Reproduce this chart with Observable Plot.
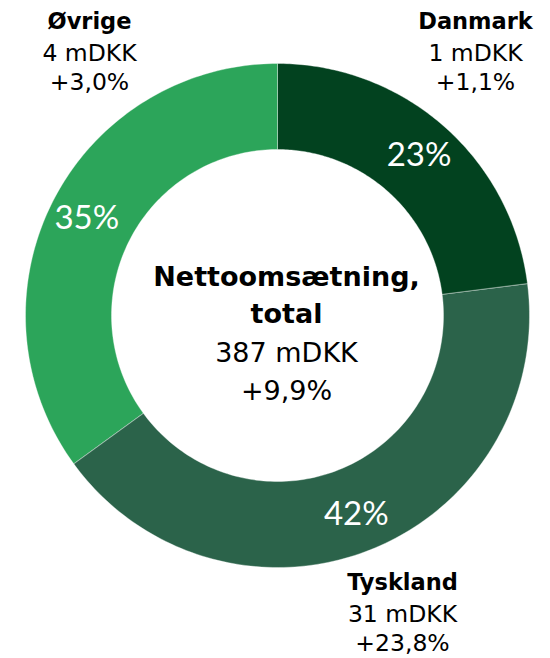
<!DOCTYPE html>
<html>
<head>
<meta charset="utf-8">
<script src="https://cdn.jsdelivr.net/npm/d3@7"></script>
<script src="https://cdn.jsdelivr.net/npm/@observablehq/plot@0.6"></script>
<style>
  html, body { margin: 0; padding: 0; background: #fff; }
  #chart svg { display: block; }
</style>
</head>
<body>
<div id="chart"></div>
<script>
// ---- data ----
const categories = ["Danmark", "Tyskland", "Øvrige"];
const shares = [23, 42, 35];
const amounts = ["1 mDKK", "31 mDKK", "4 mDKK"];
const growth = ["+1,1%", "+23,8%", "+3,0%"];
const colors = ["#02421f", "#2b634a", "#2ca55a"];
const totalTitle = ["Nettoomsætning,", "total"];
const totalAmount = "387 mDKK";
const totalGrowth = "+9,9%";

// ---- layout ----
const W = 550, H = 658;
const cx = 277, cy = 315;      // donut centre in pixels
const R = 252, r0 = 166, rLabel = 214;
const FONT = "'DejaVu Sans', sans-serif";
const PCT_FONT = "Lato, sans-serif";
const px = p => p - cx;        // pixel -> data x
const py = p => cy - p;        // pixel -> data y

// slices from shares
const total = d3.sum(shares);
let acc = 0;
const slices = categories.map((c, i) => {
  const a0 = acc / total * 2 * Math.PI;
  acc += shares[i];
  const a1 = acc / total * 2 * Math.PI;
  return {cat: c, share: shares[i], a0, a1, mid: (a0 + a1) / 2};
});
const poly = [];
for (const s of slices) {
  const n = 120;
  for (let k = 0; k <= n; k++) {
    const a = s.a0 + (s.a1 - s.a0) * k / n;
    poly.push({cat: s.cat, x: R * Math.sin(a), y: R * Math.cos(a)});
  }
  for (let k = n; k >= 0; k--) {
    const a = s.a0 + (s.a1 - s.a0) * k / n;
    poly.push({cat: s.cat, x: r0 * Math.sin(a), y: r0 * Math.cos(a)});
  }
}

// outer label anchors (centre x, first baseline) in pixels
const outerPos = {
  "Danmark": [475, 28],
  "Tyskland": [402, 589],
  "Øvrige": [89, 28]
};
const lineGap = [0, 32, 61];
const outer = categories.map((c, i) => ({cat: c, amount: amounts[i], growth: growth[i], pos: outerPos[c]}));

const fsOutB = 22.5, fsOut = 23.5, fsCen = 27;
const chart = Plot.plot({
  width: W, height: H,
  margin: 0,
  style: {fontFamily: FONT, background: "#fff"},
  x: {domain: [-cx, W - cx], axis: null},
  y: {domain: [cy - H, cy], axis: null},
  color: {domain: categories, range: colors},
  marks: [
    Plot.line(poly, {x: "x", y: "y", z: "cat", fill: "cat", stroke: "#fff", strokeWidth: 0.6, strokeOpacity: 0.6, curve: "linear-closed"}),
    Plot.text(slices, {
      x: d => rLabel * Math.sin(d.mid), y: d => rLabel * Math.cos(d.mid),
      text: d => d.share + "%", fill: "#fff", fontSize: 33, fontWeight: 400, fontFamily: PCT_FONT
    }),
    // outer labels
    Plot.text(outer, {x: d => px(d.pos[0]), y: d => py(d.pos[1] + lineGap[0] - 0.32 * fsOutB), text: "cat", fontSize: fsOutB, fontWeight: 700, fill: "#000"}),
    Plot.text(outer, {x: d => px(d.pos[0]), y: d => py(d.pos[1] + lineGap[1] - 0.32 * fsOut), text: "amount", fontSize: fsOut, fill: "#000"}),
    Plot.text(outer, {x: d => px(d.pos[0]), y: d => py(d.pos[1] + lineGap[2] - 0.32 * fsOut), text: "growth", fontSize: fsOut, fill: "#000"}),
    // centre labels
    Plot.text(totalTitle, {x: () => px(286), y: (d, i) => py([285, 322][i] - 0.32 * fsCen), text: d => d, fontSize: fsCen, fontWeight: 700, fill: "#000"}),
    Plot.text([totalAmount, totalGrowth], {x: () => px(286), y: (d, i) => py([361, 399][i] - 0.32 * fsCen), text: d => d, fontSize: fsCen, fill: "#000"})
  ]
});
document.getElementById("chart").appendChild(chart);
</script>
</body>
</html>
